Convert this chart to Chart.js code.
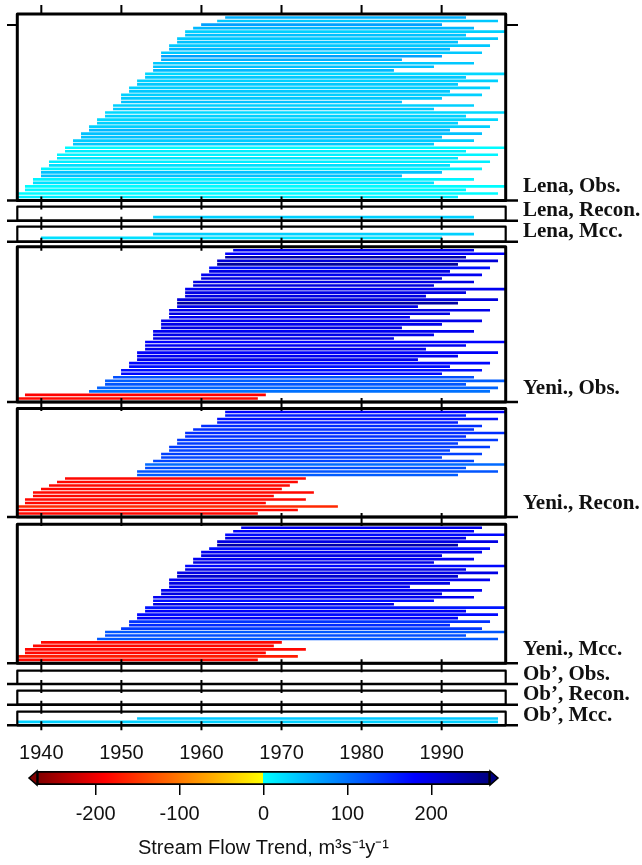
<!DOCTYPE html>
<html lang="en">
<head>
<meta charset="UTF-8">
<title>Stream Flow Trend</title>
<script src="https://cdn.jsdelivr.net/npm/chart.js"></script>
<style>
  html, body { margin: 0; padding: 0; background: #fff; }
  #wrap { position: relative; width: 642px; height: 865px; overflow: hidden; }
  #wrap canvas { position: absolute; left: 0; }
</style>
</head>
<body>
<div id="wrap"></div>
<script>
// each row: start year, end year, trend (m3/s per year), listed top to bottom
const lenaObsStart = [1963,1962,1960,1959,1958,1958,1957,1957,1956,1956,1955,1955,1955,1954,1954,1954,1953,1953,1952,1952,1951,1951,1950,1950,1950,1949,1949,1948,1948,1947,1947,1946,1946,1945,1945,1944,1944,1943,1943,1942,1942,1941,1941,1940,1940,1940,1939,1939,1938,1938,1937,1937];
const lenaObsEnd   = [1993,1997,1990,1994,1998,1993,1997,1992,1996,1991,1995,1990,1985,1994,1989,1984,1998,1993,1997,1992,1996,1991,1995,1990,1985,1994,1989,1998,1993,1997,1992,1996,1991,1995,1990,1994,1989,1998,1993,1997,1992,1996,1991,1995,1990,1985,1994,1989,1998,1993,1997,1992];
const lenaObsTrend = [55,39,67,50,33,44,39,44,39,50,39,67,56,39,44,50,28,39,33,39,33,39,33,39,44,33,39,28,33,28,33,33,50,44,44,36,39,3,12,8,16,12,22,8,44,44,8,22,2,5,2,12];

const lenaReconStart = [1954];
const lenaReconEnd   = [1994];
const lenaReconTrend = [33];

const lenaMccStart = [1954,1940];
const lenaMccEnd   = [1994,1990];
const lenaMccTrend = [33,22];

const yeniObsStart = [1964,1963,1963,1962,1962,1961,1961,1960,1960,1959,1959,1958,1958,1958,1957,1957,1957,1956,1956,1956,1955,1955,1955,1954,1954,1954,1953,1953,1953,1952,1952,1952,1951,1951,1950,1950,1949,1948,1948,1947,1946,1938,1937];
const yeniObsEnd   = [1994,1998,1993,1997,1992,1996,1991,1995,1990,1994,1989,1998,1993,1988,1997,1992,1987,1996,1991,1986,1995,1990,1985,1994,1989,1984,1998,1993,1988,1997,1992,1987,1996,1991,1995,1990,1994,1998,1993,1997,1996,1968,1967];
const yeniObsTrend = [195,180,240,210,250,170,200,190,205,200,205,190,200,200,205,245,195,195,200,190,195,195,200,190,195,200,180,190,195,185,190,195,175,170,170,175,125,115,120,110,100,-190,-185];

const yeniReconStart = [1963,1963,1962,1962,1960,1959,1958,1958,1957,1957,1956,1956,1955,1955,1954,1953,1953,1952,1952,1943,1942,1941,1940,1939,1939,1938,1938,1937,1937,1937];
const yeniReconEnd   = [1998,1993,1997,1992,1995,1994,1998,1993,1997,1992,1996,1991,1995,1990,1994,1998,1993,1997,1992,1973,1972,1971,1970,1974,1969,1973,1968,1977,1972,1967];
const yeniReconTrend = [178,160,168,160,148,148,148,148,140,138,138,135,135,132,132,105,125,120,115,-185,-185,-185,-185,-185,-185,-185,-185,-160,-185,-185];

const yeniMccStart = [1965,1964,1963,1963,1962,1962,1961,1960,1960,1959,1959,1958,1958,1957,1957,1956,1956,1956,1955,1955,1954,1954,1954,1953,1953,1952,1952,1951,1951,1950,1948,1948,1947,1940,1939,1938,1938,1937,1937];
const yeniMccEnd   = [1995,1994,1998,1993,1997,1992,1996,1995,1990,1994,1989,1998,1993,1997,1992,1996,1991,1986,1995,1990,1994,1989,1984,1998,1993,1997,1992,1996,1991,1995,1998,1993,1997,1970,1969,1973,1968,1972,1967];
const yeniMccTrend = [190,185,175,200,200,240,170,190,200,190,200,175,200,200,215,190,200,190,190,200,190,170,200,165,185,175,185,145,150,140,118,125,118,-185,-185,-185,-185,-170,-185];

const obObsStart = [], obObsEnd = [], obObsTrend = [];
const obReconStart = [], obReconEnd = [], obReconTrend = [];

const obMccStart = [1952,1937];
const obMccEnd   = [1997,1997];
const obMccTrend = [39,33];

const panelNames = ['Lena, Obs.', 'Lena, Recon.', 'Lena, Mcc.', 'Yeni., Obs.', 'Yeni., Recon.', 'Yeni., Mcc.', 'Ob\u2019, Obs.', 'Ob\u2019, Recon.', 'Ob\u2019, Mcc.'];
const decadeTicks = [1940, 1950, 1960, 1970, 1980, 1990];
const yearMin = 1937, yearMax = 1998;

const cbMin = -270, cbMax = 270;
const cbTicks = [-200, -100, 0, 100, 200];

const panels = [
  [lenaObsStart, lenaObsEnd, lenaObsTrend],
  [lenaReconStart, lenaReconEnd, lenaReconTrend],
  [lenaMccStart, lenaMccEnd, lenaMccTrend],
  [yeniObsStart, yeniObsEnd, yeniObsTrend],
  [yeniReconStart, yeniReconEnd, yeniReconTrend],
  [yeniMccStart, yeniMccEnd, yeniMccTrend],
  [obObsStart, obObsEnd, obObsTrend],
  [obReconStart, obReconEnd, obReconTrend],
  [obMccStart, obMccEnd, obMccTrend]
];

// frame top / bottom of every panel, in page pixels
const frames = [[14, 200.5], [206.7, 220.7], [226.7, 241.7], [246.7, 402], [408.5, 517], [524.3, 663.3], [670.7, 684], [690.7, 704.7], [711.7, 725.3]];
const frameLeft = 17.3, frameRight = 505.7;
const W = 642;
const sans = '"Liberation Sans", Arial, sans-serif';

// red-yellow | cyan-blue-navy colour scale
function trendColor(v) {
  let r, g, b;
  if (v >= 0) {
    r = 0;
    if (v <= 180) { g = 255 * (1 - v / 180); b = 255; }
    else { g = 0; b = 255 - 127 * Math.min(1, (v - 180) / 90); }
  } else {
    const a = -v;
    b = 0;
    if (a <= 190) { r = 255; g = 255 * (1 - a / 190); }
    else { r = 255 - 127 * Math.min(1, (a - 190) / 80); g = 0; }
  }
  return 'rgb(' + Math.round(r) + ',' + Math.round(g) + ',' + Math.round(b) + ')';
}

const panelFrame = {
  id: 'panelFrame',
  afterDraw(chart, args, o) {
    const { ctx, chartArea: a } = chart;
    const x = chart.scales.x;
    ctx.save();
    ctx.strokeStyle = '#000';
    ctx.lineJoin = 'round';
    ctx.lineWidth = o.thin ? 2.2 : 3;
    ctx.strokeRect(a.left, a.top, a.right - a.left, a.bottom - a.top);
    // bottom line runs out past the frame on both sides
    ctx.lineWidth = 2.4;
    ctx.beginPath();
    ctx.moveTo(7, a.bottom);
    ctx.lineTo(518, a.bottom);
    ctx.stroke();
    ctx.lineWidth = 2;
    ctx.beginPath();
    decadeTicks.forEach(yr => {
      const px = x.getPixelForValue(yr);
      ctx.moveTo(px, a.bottom - 4);
      ctx.lineTo(px, a.bottom + (o.last ? 5 : 9));
      if (o.first) {
        ctx.moveTo(px, a.top - 9);
        ctx.lineTo(px, a.top);
      }
    });
    if (o.first) {
      ctx.moveTo(7, a.top + 11); ctx.lineTo(a.left, a.top + 11);
      ctx.moveTo(a.right, a.top + 11); ctx.lineTo(518, a.top + 11);
    }
    ctx.stroke();
    ctx.fillStyle = '#111';
    ctx.font = 'bold 21px "Liberation Serif", "Times New Roman", serif';
    ctx.textBaseline = 'alphabetic';
    ctx.textAlign = 'left';
    ctx.fillText(o.label, 523, a.bottom - (o.thin ? 4.5 : 8.5));
    ctx.restore();
  }
};

const wrap = document.getElementById('wrap');

function addCanvas(top, height) {
  const c = document.createElement('canvas');
  c.width = W;
  c.height = height;
  c.style.top = top + 'px';
  wrap.appendChild(c);
  return c;
}

panels.forEach(([start, end, trend], i) => {
  const [fTop, fBot] = frames[i];
  const first = i === 0, last = i === panels.length - 1;
  const n = start.length;
  const thin = n < 4;
  const axisH = last ? 42 : 0;
  const cTop = Math.max(0, Math.floor(fTop) - 24);
  const cBot = Math.ceil(fBot) + 24 + (last ? 22 : 0);
  const canvas = addCanvas(cTop, cBot - cTop);

  new Chart(canvas, {
    type: 'bar',
    data: {
      datasets: [{
        data: start.map((s, k) => ({ x: [s, end[k]], y: n - 1 - k })),
        backgroundColor: trend.map(trendColor),
        borderWidth: 0,
        barThickness: 2
      }]
    },
    options: {
      indexAxis: 'y',
      responsive: false,
      animation: false,
      devicePixelRatio: 1,
      events: [],
      layout: {
        padding: { left: frameLeft, right: W - frameRight, top: fTop - cTop, bottom: cBot - fBot - axisH }
      },
      scales: {
        x: {
          type: 'linear',
          min: yearMin,
          max: yearMax,
          display: last,
          afterBuildTicks: s => { s.ticks = decadeTicks.map(v => ({ value: v })); },
          afterFit: s => { s.height = axisH; },
          grid: { display: false, drawTicks: false },
          border: { display: false },
          ticks: {
            font: { family: sans, size: 20 }, color: '#111', padding: 16,
            autoSkip: false, maxRotation: 0, callback: v => String(v)
          }
        },
        y: { type: 'linear', min: -1, max: Math.max(n, 3), offset: false, display: false }
      },
      plugins: {
        legend: { display: false },
        tooltip: { enabled: false },
        panelFrame: { label: panelNames[i], first, last, thin }
      }
    },
    plugins: [panelFrame]
  });
});

// colour bar
function barGradient(chart) {
  const { ctx, chartArea } = chart;
  if (!chartArea) return '#888';
  const g = ctx.createLinearGradient(chartArea.left, 0, chartArea.right, 0);
  const span = cbMax - cbMin;
  for (let v = cbMin; v <= cbMax; v += 10) {
    const off = (v - cbMin) / span;
    if (v === 0) g.addColorStop(off, trendColor(-0.001));
    g.addColorStop(off, trendColor(v));
  }
  return g;
}

const cbEnds = {
  id: 'cbEnds',
  afterDraw(chart) {
    const { ctx, chartArea: a } = chart;
    const mid = (a.top + a.bottom) / 2;
    ctx.save();
    ctx.lineWidth = 1.5;
    ctx.strokeStyle = '#000';
    ctx.lineJoin = 'miter';
    ctx.fillStyle = trendColor(cbMin);
    ctx.beginPath();
    ctx.moveTo(a.left, a.top); ctx.lineTo(a.left - 8, mid); ctx.lineTo(a.left, a.bottom); ctx.closePath();
    ctx.fill(); ctx.stroke();
    ctx.fillStyle = trendColor(cbMax);
    ctx.beginPath();
    ctx.moveTo(a.right, a.top); ctx.lineTo(a.right + 8, mid); ctx.lineTo(a.right, a.bottom); ctx.closePath();
    ctx.fill(); ctx.stroke();
    ctx.restore();
  }
};

const cbCanvas = addCanvas(760, 105);
new Chart(cbCanvas, {
  type: 'bar',
  data: {
    labels: [''],
    datasets: [{
      data: [[cbMin, cbMax]],
      backgroundColor: ctx => barGradient(ctx.chart),
      borderColor: '#000',
      borderWidth: 2,
      borderSkipped: false,
      barPercentage: 1,
      categoryPercentage: 1
    }]
  },
  options: {
    indexAxis: 'y',
    responsive: false,
    animation: false,
    devicePixelRatio: 1,
    events: [],
    layout: { padding: { left: 37, right: W - 490, top: 11, bottom: 0 } },
    scales: {
      x: {
        type: 'linear',
        min: cbMin,
        max: cbMax,
        afterBuildTicks: s => { s.ticks = cbTicks.map(v => ({ value: v })); },
        afterFit: s => { s.height = 80; },
        grid: { display: true, drawOnChartArea: false, drawTicks: true, tickLength: 10, color: '#000', lineWidth: 1.5 },
        border: { display: false },
        ticks: { font: { family: sans, size: 20 }, color: '#111', padding: 7, autoSkip: false, maxRotation: 0 },
        title: {
          display: true,
          text: 'Stream Flow Trend, m\u00b3s\u207b\u00b9y\u207b\u00b9',
          font: { family: sans, size: 20 },
          color: '#111',
          padding: { top: 0, bottom: 5 }
        }
      },
      y: { display: false }
    },
    plugins: { legend: { display: false }, tooltip: { enabled: false } }
  },
  plugins: [cbEnds]
});
</script>
</body>
</html>
